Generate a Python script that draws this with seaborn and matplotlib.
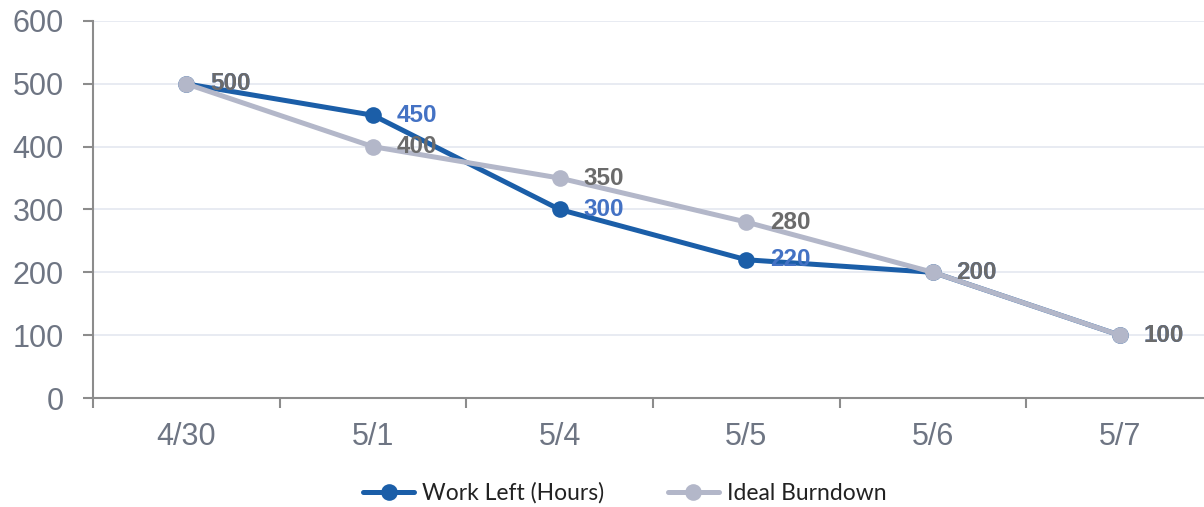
import pandas as pd
import matplotlib
matplotlib.use("Agg")
import matplotlib.pyplot as plt
import seaborn as sns

DATES = ["4/30", "5/1", "5/4", "5/5", "5/6", "5/7"]
WORK_LEFT = [500, 450, 300, 220, 200, 100]
IDEAL = [500, 400, 350, 280, 200, 100]
SERIES = ["Work Left (Hours)", "Ideal Burndown"]

BLUE = "#1b5ea8"
GREY = "#b3b7c9"
LABEL_COLORS = {"Work Left (Hours)": "#4472c4", "Ideal Burndown": "#6b6b6b"}
AXIS_GREY = "#8c8c8c"
TICK_TEXT = "#6e7583"

sns.set_style("ticks")
plt.rcParams["font.family"] = ["Liberation Sans", "DejaVu Sans"]

df = pd.DataFrame({
    "date": DATES * 2,
    "pos": list(range(len(DATES))) * 2,
    "hours": WORK_LEFT + IDEAL,
    "series": [SERIES[0]] * len(DATES) + [SERIES[1]] * len(DATES),
})

fig = plt.figure(figsize=(12.04, 5.07), dpi=100)
ax = fig.add_axes([93 / 1204, 109 / 507, 1120 / 1204, 377 / 507])

sns.lineplot(data=df, x="pos", y="hours", hue="series", hue_order=SERIES,
             palette=[BLUE, GREY], marker="o", markersize=12, linewidth=3.6,
             markeredgewidth=0, sort=False, legend=False, ax=ax)

# data labels, grey series drawn last so it sits on top
for name, vals in [(SERIES[0], WORK_LEFT), (SERIES[1], IDEAL)]:
    for i, v in enumerate(vals):
        ax.annotate(str(v), (i, v), xytext=(17, 0), textcoords="offset points",
                    ha="left", va="center", fontsize=17.5, fontweight="bold",
                    color=LABEL_COLORS[name])

ax.set_xlim(-0.5, len(DATES) - 0.5)
ax.set_ylim(0, 600)
ax.set_yticks(range(0, 700, 100))
ax.set_xticks(range(len(DATES)))
ax.set_xticklabels(DATES)
ax.set_xticks([i - 0.5 for i in range(len(DATES) + 1)], minor=True)
ax.tick_params(axis="x", which="major", bottom=True, length=0, pad=17, labelsize=22,
               labelcolor=TICK_TEXT)
ax.tick_params(axis="x", which="minor", bottom=True, length=7, width=1.5,
               color=AXIS_GREY, direction="out")
ax.tick_params(axis="y", which="major", left=True, length=7, width=1.5, color=AXIS_GREY,
               direction="out", pad=14, labelsize=22, labelcolor=TICK_TEXT)
ax.tick_params(axis="y", which="minor", left=False)
ax.set_xlabel("")
ax.set_ylabel("")

ax.grid(axis="y", color="#e4e8f0", linewidth=1.2)
ax.set_axisbelow(True)
for side in ["top", "right"]:
    ax.spines[side].set_visible(False)
for side in ["left", "bottom"]:
    ax.spines[side].set_color(AXIS_GREY)
    ax.spines[side].set_linewidth(1.5)

handles = [plt.Line2D([], [], color=c, linewidth=3.6, marker="o", markersize=12,
                      markeredgewidth=0) for c in [BLUE, GREY]]
fig.legend(handles, SERIES, loc="center", bbox_to_anchor=(0.519, 0.028), ncol=2,
           frameon=False, handlelength=2.2, handletextpad=0.35, columnspacing=2.8,
           labelcolor="#222222",
           prop={"family": ["Lato", "DejaVu Sans"], "size": 16.5})

fig.savefig("out.png", dpi=100)
